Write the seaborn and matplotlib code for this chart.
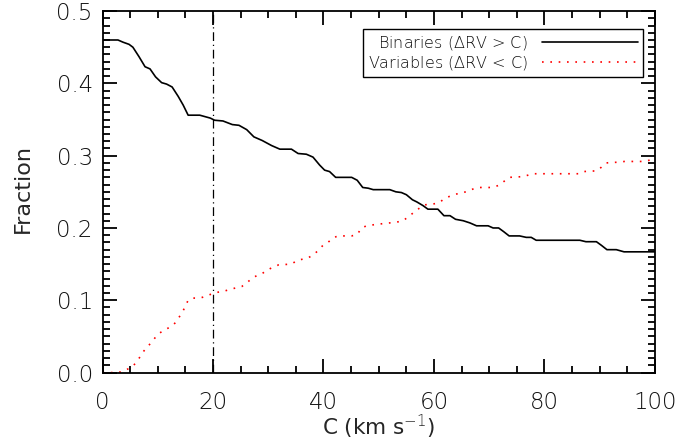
import matplotlib
matplotlib.use("Agg")
import matplotlib.pyplot as plt
import numpy as np
import pandas as pd
import seaborn as sns
from matplotlib.ticker import MultipleLocator, FormatStrFormatter

# Valeurs
c_bin = [0, 2.8, 3.7, 4.8, 5.5, 6.6, 7.7, 8.6, 9.6, 10.7, 11.6, 12.6, 13.7, 14.6,
         15.5, 17.6, 19.5, 20.3, 21.8, 23.5, 24.7, 26.1, 27.4, 28.9, 30.6, 32.1,
         34.2, 35.4, 36.9, 38.1, 39.3, 40.2, 41.1, 42.2, 45.1, 46.1, 47.1, 48.1,
         49.0, 52.0, 53.1, 54.1, 55.0, 56.1, 56.9, 58.0, 58.9, 60.7, 61.8, 62.9,
         63.9, 65.3, 66.5, 67.7, 69.8, 70.7, 71.7, 72.6, 73.6, 75.5, 76.7, 77.6,
         78.5, 86.4, 87.5, 89.4, 90.3, 91.3, 93.0, 94.4, 100]
f_bin = [0.460, 0.460, 0.457, 0.454, 0.450, 0.437, 0.423, 0.420, 0.409, 0.401,
         0.399, 0.395, 0.382, 0.370, 0.356, 0.356, 0.352, 0.349, 0.348, 0.343,
         0.342, 0.336, 0.326, 0.321, 0.314, 0.309, 0.309, 0.303, 0.302, 0.298,
         0.287, 0.280, 0.278, 0.270, 0.270, 0.266, 0.256, 0.255, 0.253, 0.253,
         0.250, 0.249, 0.246, 0.239, 0.236, 0.231, 0.226, 0.226, 0.217, 0.217,
         0.212, 0.210, 0.207, 0.203, 0.203, 0.200, 0.200, 0.195, 0.189, 0.189,
         0.187, 0.187, 0.183, 0.183, 0.181, 0.181, 0.176, 0.170, 0.170, 0.167,
         0.167]

c_var = [0, 2.5, 3.4, 4.6, 5.4, 6.2, 6.9, 7.5, 8.3, 9.0, 9.6, 10.4, 11.5, 12.5,
         13.2, 13.9, 14.5, 15.0, 15.5, 16.4, 17.6, 18.5, 19.5, 20.7, 21.8, 23.0,
         24.1, 25.2, 26.1, 27.0, 27.9, 28.9, 29.9, 30.9, 31.9, 34.2, 35.2, 36.3,
         37.3, 38.2, 39.2, 39.9, 40.8, 41.7, 42.6, 45.1, 46.1, 46.9, 47.8, 49.6,
         53.2, 54.4, 55.1, 56.1, 57.1, 58.3, 59.8, 60.9, 62.0, 63.2, 64.1, 65.3,
         66.2, 67.4, 68.3, 70.7, 71.7, 72.6, 73.6, 76.1, 77.9, 86.1, 87.0, 89.4,
         90.3, 91.2, 93.3, 94.5, 98.2, 100]
f_var = [0.000, 0.000, 0.001, 0.005, 0.008, 0.015, 0.023, 0.030, 0.037, 0.043,
         0.049, 0.055, 0.060, 0.064, 0.069, 0.077, 0.084, 0.092, 0.100, 0.103,
         0.103, 0.105, 0.108, 0.111, 0.112, 0.115, 0.117, 0.119, 0.124, 0.130,
         0.134, 0.137, 0.142, 0.146, 0.149, 0.150, 0.155, 0.157, 0.159, 0.163,
         0.170, 0.176, 0.180, 0.186, 0.189, 0.189, 0.191, 0.200, 0.203, 0.205,
         0.208, 0.210, 0.214, 0.220, 0.226, 0.232, 0.233, 0.235, 0.241, 0.245,
         0.247, 0.249, 0.251, 0.255, 0.256, 0.256, 0.259, 0.264, 0.270, 0.271,
         0.275, 0.275, 0.278, 0.279, 0.284, 0.290, 0.291, 0.292, 0.292, 0.296]

c_cut = 20

df_bin = pd.DataFrame({"C": c_bin, "Fraction": f_bin})
df_var = pd.DataFrame({"C": c_var, "Fraction": f_var})

sns.set_style("white")
plt.rcParams["font.family"] = ["DejaVu Sans"]
plt.rcParams["font.weight"] = "light"
plt.rcParams["mathtext.fontset"] = "dejavusans"
plt.rcParams["text.color"] = "#111111"

fig = plt.figure(figsize=(6.88, 4.43), dpi=100)
ax = fig.add_axes([0.149, 0.159, 0.803, 0.816])

sns.lineplot(data=df_bin, x="C", y="Fraction", ax=ax, color="black", lw=1.2,
             label=r"Binaries ($\Delta$RV > C)")
sns.lineplot(data=df_var, x="C", y="Fraction", ax=ax, color="red", lw=1.2,
             linestyle=(0, (1, 4)), label=r"Variables ($\Delta$RV < C)")
ax.axvline(c_cut, color="black", lw=0.9, linestyle=(0, (7, 3, 1, 3)))

ax.set_xlim(0, 100)
ax.set_ylim(0, 0.5)
ax.xaxis.set_major_locator(MultipleLocator(20))
ax.xaxis.set_minor_locator(MultipleLocator(5))
ax.yaxis.set_major_locator(MultipleLocator(0.1))
ax.yaxis.set_minor_locator(MultipleLocator(0.01))
ax.yaxis.set_major_formatter(FormatStrFormatter("%.1f"))
ax.tick_params(which="both", direction="in", top=True, right=True,
               bottom=True, left=True, color="black", width=1.3,
               labelcolor="#111111")
ax.tick_params(which="major", length=10, labelsize=16.5)
ax.tick_params(axis="x", which="major", pad=13)
ax.tick_params(axis="y", which="major", pad=7)
ax.tick_params(which="minor", length=5)
for s in ax.spines.values():
    s.set_color("black")
    s.set_linewidth(1.3)

ax.set_xlabel(r"C (km s$^{-1}$)", fontsize=15.5)
ax.set_ylabel("Fraction", fontsize=16)
ax.xaxis.set_label_coords(0.5, -0.112)
ax.yaxis.set_label_coords(-0.126, 0.51)

leg = ax.legend(loc="upper right", bbox_to_anchor=(0.978, 0.95), fontsize=11.5,
                markerfirst=False, handlelength=6.0, frameon=True,
                fancybox=False, edgecolor="black", framealpha=1,
                borderpad=0.3, borderaxespad=0, labelspacing=0.15,
                handletextpad=0.9)
leg.get_frame().set_linewidth(1.0)

fig.savefig("out.png", dpi=100)
